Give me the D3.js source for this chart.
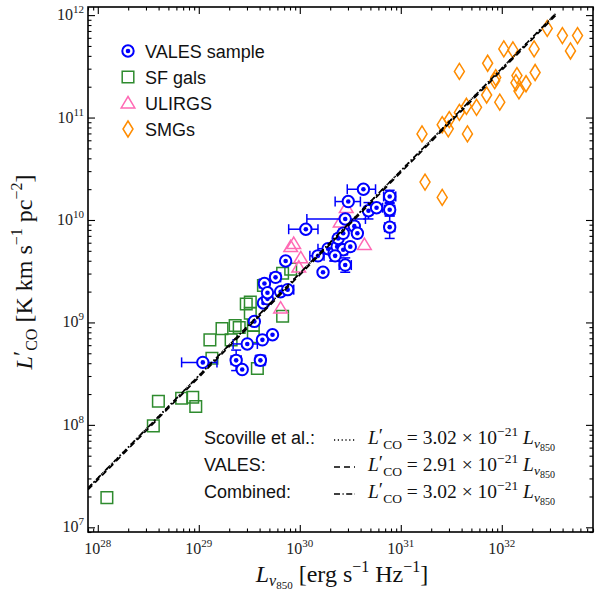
<!DOCTYPE html>
<html>
<head>
<meta charset="utf-8">
<script src="https://cdn.jsdelivr.net/npm/d3@7/dist/d3.min.js"></script>
<style>
  body { margin: 0; background: #fff; }
  .sans { font-family: "Liberation Sans", Arial, sans-serif; }
  .serif { font-family: "Liberation Serif", "DejaVu Serif", serif; }
</style>
</head>
<body>
<div id="chart"></div>
<script>
var svgWidth = 596;
var svgHeight = 595;

var margin = { top: 7, right: 3, bottom: 63, left: 88 };
var width = svgWidth - margin.left - margin.right;
var height = svgHeight - margin.top - margin.bottom;

// ---- data (log10 of luminosities) ----
var valesLogL = [29.04, 29.37, 29.43, 29.48, 29.55, 29.61, 29.63, 29.73, 29.64, 29.68,
  29.65, 29.76, 29.81, 29.88, 29.68, 29.86, 30.06, 30.18, 30.23, 30.28,
  30.34, 30.37, 30.38, 30.43, 30.43, 30.45, 30.35, 30.45, 30.48, 30.54,
  30.57, 30.50, 30.63, 30.68, 30.76, 30.89, 30.89, 30.89];
var valesLogLco = [8.61, 8.63, 8.54, 8.79, 9.01, 8.63, 8.83, 8.88, 9.19, 9.23,
  9.38, 9.44, 9.30, 9.32, 9.29, 9.60, 9.91, 9.65, 9.49, 9.72,
  9.68, 9.74, 9.82, 9.87, 9.71, 9.56, 9.65, 10.01, 10.18, 9.94,
  9.87, 9.74, 10.30, 10.09, 10.12, 10.23, 10.10, 9.93];
// error bars in dex
var valesXErrLo = [0.21, 0.05, 0.03, 0.14, 0.03, 0.05, 0.03, 0.03, 0.03, 0.03,
  0.05, 0.05, 0.03, 0.06, 0.03, 0.03, 0.17, 0.08, 0.03, 0.10,
  0.04, 0.03, 0.04, 0.04, 0.04, 0.06, 0.04, 0.38, 0.13, 0.04,
  0.04, 0.04, 0.16, 0.04, 0.06, 0.06, 0.05, 0.05];
var valesXErrHi = [0.14, 0.05, 0.03, 0.10, 0.03, 0.05, 0.03, 0.03, 0.03, 0.03,
  0.05, 0.05, 0.03, 0.06, 0.03, 0.03, 0.12, 0.06, 0.03, 0.06,
  0.04, 0.03, 0.04, 0.04, 0.04, 0.06, 0.04, 0.20, 0.12, 0.04,
  0.04, 0.04, 0.12, 0.04, 0.06, 0.06, 0.05, 0.05];
var valesYErr = [0, 0.10, 0, 0, 0, 0.05, 0, 0, 0, 0,
  0, 0, 0, 0, 0, 0, 0, 0, 0, 0,
  0.08, 0, 0, 0, 0.05, 0.07, 0.05, 0, 0, 0,
  0, 0, 0, 0.08, 0, 0.06, 0.06, 0.11];

var sfLogL = [28.09, 28.55, 28.60, 28.83, 28.94, 28.97, 29.11, 29.13, 29.23, 29.32,
  29.36, 29.40, 29.47, 29.51, 29.51, 29.54, 29.54, 29.58, 29.83, 29.64,
  29.83, 29.91];
var sfLogLco = [7.29, 7.99, 8.23, 8.26, 8.27, 8.18, 8.83, 8.65, 8.94, 8.83,
  8.97, 8.95, 9.18, 9.20, 9.09, 8.97, 8.86, 8.55, 9.06, 9.36,
  9.48, 9.52];

var ulirgLogL = [29.91, 29.94, 30.01, 29.99, 30.40, 30.46, 30.64, 29.81];
var ulirgLogLco = [9.74, 9.77, 9.63, 9.54, 9.98, 10.12, 9.76, 9.14];

var smgLogL = [31.21, 31.24, 31.41, 31.41, 31.47, 31.48, 31.58, 31.58, 31.65, 31.66,
  31.75, 31.85, 31.86, 31.94, 31.93, 31.98, 32.02, 32.11, 32.15, 32.14,
  32.17, 32.24, 32.32, 32.33, 32.45, 32.60, 32.68, 32.75];
var smgLogLco = [10.84, 10.37, 10.22, 10.93, 10.89, 10.98, 11.45, 11.05, 11.11, 10.84,
  11.10, 11.22, 11.53, 11.39, 11.36, 11.15, 11.67, 11.66, 11.41, 11.34,
  11.26, 11.33, 11.67, 11.44, 11.87, 11.80, 11.65, 11.80];

// fits: L'CO = a * L_nu850
var fitNames = ["Scoville et al.:", "VALES:", "Combined:"];
var fitCoef = [3.02e-21, 2.91e-21, 3.02e-21];
var fitCoefText = ["3.02", "2.91", "3.02"];
var fitDash = ["1.2,2.6", "6,4", "6,2.5,1.2,2.5"];
var fitRange = [8e27, 3.4e32];

var xTicks = [1e28, 1e29, 1e30, 1e31, 1e32];
var xTickExp = ["28", "29", "30", "31", "32"];
var yTicks = [1e7, 1e8, 1e9, 1e10, 1e11, 1e12];
var yTickExp = ["7", "8", "9", "10", "11", "12"];

var legendNames = ["VALES sample", "SF gals", "ULIRGS", "SMGs"];

// ---- svg ----
var svg = d3.select("#chart")
  .append("svg")
  .attr("width", svgWidth)
  .attr("height", svgHeight)
  .style("background-color", "white");

var chartGroup = svg.append("g")
  .attr("transform", `translate(${margin.left}, ${margin.top})`);

var xScale = d3.scaleLog().domain([8e27, 8e32]).range([0, width]);
var yScale = d3.scaleLog().domain([9e6, 1.2e12]).range([height, 0]);

// minor tick values
function minors(lo, hi) {
  var out = [];
  for (var e = lo; e <= hi; e++) {
    for (var m = 2; m <= 9; m++) out.push(m * Math.pow(10, e));
  }
  return out;
}
var xMinor = minors(27, 32).filter(v => v >= 8e27 && v <= 8e32);
var yMinor = minors(6, 12).filter(v => v >= 9e6 && v <= 1.2e12);

function styleAxis(g) {
  g.select(".domain").remove();
  g.selectAll("line").attr("stroke", "#000").attr("stroke-width", 1.1);
}

// inward ticks on all four sides
chartGroup.append("g").attr("transform", `translate(0, ${height})`)
  .call(d3.axisBottom(xScale).tickValues(xTicks).tickSize(-7).tickFormat("")).call(styleAxis);
chartGroup.append("g").attr("transform", `translate(0, ${height})`)
  .call(d3.axisBottom(xScale).tickValues(xMinor).tickSize(-3.5).tickFormat("")).call(styleAxis);
chartGroup.append("g")
  .call(d3.axisTop(xScale).tickValues(xTicks).tickSize(-7).tickFormat("")).call(styleAxis);
chartGroup.append("g")
  .call(d3.axisTop(xScale).tickValues(xMinor).tickSize(-3.5).tickFormat("")).call(styleAxis);
chartGroup.append("g")
  .call(d3.axisLeft(yScale).tickValues(yTicks).tickSize(-7).tickFormat("")).call(styleAxis);
chartGroup.append("g")
  .call(d3.axisLeft(yScale).tickValues(yMinor).tickSize(-3.5).tickFormat("")).call(styleAxis);
chartGroup.append("g").attr("transform", `translate(${width}, 0)`)
  .call(d3.axisRight(yScale).tickValues(yTicks).tickSize(-7).tickFormat("")).call(styleAxis);
chartGroup.append("g").attr("transform", `translate(${width}, 0)`)
  .call(d3.axisRight(yScale).tickValues(yMinor).tickSize(-3.5).tickFormat("")).call(styleAxis);

// tick labels 10^n
xTicks.forEach(function(v, i) {
  var t = chartGroup.append("text").attr("class", "serif")
    .attr("x", xScale(v)).attr("y", height + 22)
    .attr("text-anchor", "middle").attr("font-size", 16).attr("fill", "#222");
  t.append("tspan").text("10");
  t.append("tspan").attr("dy", -7).attr("font-size", 11).text(xTickExp[i]);
});
yTicks.forEach(function(v, i) {
  var t = chartGroup.append("text").attr("class", "serif")
    .attr("x", -4).attr("y", yScale(v) + 5)
    .attr("text-anchor", "end").attr("font-size", 16).attr("fill", "#222");
  t.append("tspan").text("10");
  t.append("tspan").attr("dy", -7).attr("font-size", 11).text(yTickExp[i]);
});

// clip to plot area
svg.append("defs").append("clipPath").attr("id", "clip")
  .append("rect").attr("width", width).attr("height", height);
var plot = chartGroup.append("g").attr("clip-path", "url(#clip)");

// marker shapes
function squarePath(s) { return `M${-s},${-s}H${s}V${s}H${-s}Z`; }
function trianglePath(s) { return `M0,${-s}L${s * 1.05},${s * 0.75}L${-s * 1.05},${s * 0.75}Z`; }
function diamondPath(w, h) { return `M0,${-h}L${w},0L0,${h}L${-w},0Z`; }

var sfColor = "#2e8b2e";
var ulirgColor = "#ff69b4";
var smgColor = "#ff8c00";
var valesColor = "#0000ff";

// SF galaxies
plot.selectAll(".sf").data(sfLogL).enter().append("path")
  .attr("d", squarePath(5.8))
  .attr("transform", (d, i) => `translate(${xScale(Math.pow(10, d))}, ${yScale(Math.pow(10, sfLogLco[i]))})`)
  .attr("fill", "none").attr("stroke", sfColor).attr("stroke-width", 1.5);

// ULIRGs
plot.selectAll(".ul").data(ulirgLogL).enter().append("path")
  .attr("d", trianglePath(6.5))
  .attr("transform", (d, i) => `translate(${xScale(Math.pow(10, d))}, ${yScale(Math.pow(10, ulirgLogLco[i]))})`)
  .attr("fill", "none").attr("stroke", ulirgColor).attr("stroke-width", 1.5);

// SMGs
plot.selectAll(".smg").data(smgLogL).enter().append("path")
  .attr("d", diamondPath(5, 8))
  .attr("transform", (d, i) => `translate(${xScale(Math.pow(10, d))}, ${yScale(Math.pow(10, smgLogLco[i]))})`)
  .attr("fill", "none").attr("stroke", smgColor).attr("stroke-width", 1.5);

// VALES error bars
var ebar = plot.append("g").attr("stroke", valesColor).attr("stroke-width", 1.5);
valesLogL.forEach(function(lx, i) {
  var cx = xScale(Math.pow(10, lx));
  var cy = yScale(Math.pow(10, valesLogLco[i]));
  var x0 = xScale(Math.pow(10, lx - valesXErrLo[i]));
  var x1 = xScale(Math.pow(10, lx + valesXErrHi[i]));
  ebar.append("line").attr("x1", x0).attr("x2", x1).attr("y1", cy).attr("y2", cy);
  ebar.append("line").attr("x1", x0).attr("x2", x0).attr("y1", cy - 5).attr("y2", cy + 5);
  ebar.append("line").attr("x1", x1).attr("x2", x1).attr("y1", cy - 5).attr("y2", cy + 5);
  if (valesYErr[i] > 0) {
    var y0 = yScale(Math.pow(10, valesLogLco[i] - valesYErr[i]));
    var y1 = yScale(Math.pow(10, valesLogLco[i] + valesYErr[i]));
    ebar.append("line").attr("x1", cx).attr("x2", cx).attr("y1", y0).attr("y2", y1);
    ebar.append("line").attr("x1", cx - 5).attr("x2", cx + 5).attr("y1", y0).attr("y2", y0);
    ebar.append("line").attr("x1", cx - 5).attr("x2", cx + 5).attr("y1", y1).attr("y2", y1);
  }
});

// VALES markers
var valesG = plot.selectAll(".vales").data(valesLogL).enter().append("g")
  .attr("transform", (d, i) => `translate(${xScale(Math.pow(10, d))}, ${yScale(Math.pow(10, valesLogLco[i]))})`);
valesG.append("circle").attr("r", 5.7).attr("fill", "white")
  .attr("stroke", valesColor).attr("stroke-width", 2);
valesG.append("circle").attr("r", 2.3).attr("fill", valesColor);

// fit lines
var line = d3.line().x(d => xScale(d[0])).y(d => yScale(d[1]));
fitCoef.forEach(function(a, i) {
  plot.append("path")
    .attr("d", line(fitRange.map(v => [v, a * v])))
    .attr("fill", "none").attr("stroke", "#000").attr("stroke-width", 1.7)
    .attr("stroke-dasharray", fitDash[i]);
});

// frame
chartGroup.append("rect").attr("width", width).attr("height", height)
  .attr("fill", "none").attr("stroke", "#000").attr("stroke-width", 1.6);

// legend (top left)
var legendG = svg.append("g").attr("transform", "translate(128, 51)");
var legendMarks = [
  g => { g.append("circle").attr("r", 5.7).attr("fill", "white").attr("stroke", valesColor).attr("stroke-width", 2);
         g.append("circle").attr("r", 2.3).attr("fill", valesColor); },
  g => g.append("path").attr("d", squarePath(5.8)).attr("fill", "none").attr("stroke", sfColor).attr("stroke-width", 1.5),
  g => g.append("path").attr("d", trianglePath(6.5)).attr("fill", "none").attr("stroke", ulirgColor).attr("stroke-width", 1.5),
  g => g.append("path").attr("d", diamondPath(5, 8)).attr("fill", "none").attr("stroke", smgColor).attr("stroke-width", 1.5)
];
legendNames.forEach(function(name, i) {
  var row = legendG.append("g").attr("transform", `translate(0, ${i * 26})`);
  legendMarks[i](row);
  row.append("text").attr("class", "sans").attr("x", 17).attr("y", 6.5)
    .attr("font-size", 18).attr("fill", "#111").text(name);
});

// math text helper: parts = [text, italic, shift, size]
function mathText(sel, parts, baseSize) {
  var cur = 0;
  parts.forEach(function(p) {
    var ts = sel.append("tspan").text(p[0]);
    if (p[1]) ts.attr("font-style", "italic");
    var shift = p[2] || 0;
    ts.attr("dy", shift - cur);
    cur = shift;
    ts.attr("font-size", p[3] || baseSize);
  });
}

// fit annotation
var annG = svg.append("g").attr("transform", "translate(204, 444)");
fitNames.forEach(function(name, i) {
  var yy = i * 27;
  annG.append("text").attr("class", "sans").attr("x", 0).attr("y", yy)
    .attr("font-size", 18).attr("fill", "#111").text(name);
  annG.append("line").attr("x1", 130).attr("x2", 151).attr("y1", yy - 4).attr("y2", yy - 4)
    .attr("stroke", "#000").attr("stroke-width", 1.6).attr("stroke-dasharray", fitDash[i]);
  var t = annG.append("text").attr("class", "serif").attr("x", 164).attr("y", yy)
    .attr("font-size", 19.5).attr("fill", "#111");
  mathText(t, [
    ["L", true, 0], ["\u2032", false, -2], ["CO", false, 5, 13.5],
    [" = " + fitCoefText[i] + " \u00d7 10", false, 0], ["\u221221", false, -8, 13.5],
    [" L", true, 0], ["\u03bd", true, 4, 13.5], ["850", false, 7, 10]
  ], 19.5);
});

// axis labels
var xl = svg.append("text").attr("class", "serif")
  .attr("x", 342).attr("y", 582).attr("text-anchor", "middle")
  .attr("font-size", 24).attr("fill", "#111");
mathText(xl, [
  ["L", true, 0], ["\u03bd", true, 4, 16], ["850", false, 7, 11],
  [" [erg s", false, 0], ["\u22121", false, -10, 16], [" Hz", false, 0], ["\u22121", false, -10, 16], ["]", false, 0]
], 24);

var yl = svg.append("text").attr("class", "serif")
  .attr("transform", "translate(32, 272) rotate(-90)")
  .attr("text-anchor", "middle").attr("font-size", 24).attr("fill", "#111");
mathText(yl, [
  ["L", true, 0], ["\u2032", false, -3], ["CO", false, 5, 16],
  [" [K km s", false, 0], ["\u22121", false, -10, 16], [" pc", false, 0], ["\u22122", false, -10, 16], ["]", false, 0]
], 24);
</script>
</body>
</html>
